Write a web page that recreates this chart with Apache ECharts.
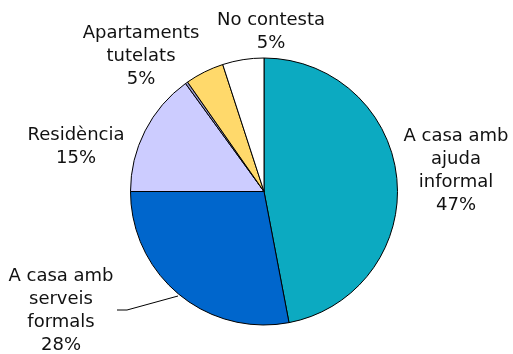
<!DOCTYPE html>
<html>
<head>
<meta charset="utf-8">
<script src="https://cdn.jsdelivr.net/npm/echarts@6/dist/echarts.min.js"></script>
<style>
  html, body { margin: 0; padding: 0; background: #fff; }
  #chart { width: 513px; height: 354px; }
</style>
</head>
<body>
<div id="chart"></div>
<script>
// Residential situation shares (percent), clockwise from 12 o'clock
const categories = [
  'A casa amb\najuda\ninformal',
  'A casa amb\nserveis\nformals',
  'Residència',
  'Altres',
  'Apartaments\ntutelats',
  'No contesta'
];
const shares = [47, 28, 15, 0.3, 4.7, 5];
const sliceColors = ['#0CAAC1', '#0066CC', '#CCCCFF', '#9A9AC8', '#FFD96B', '#FFFFFF'];
const hiddenLabels = ['Altres'];

// label anchor points (block centres) and the single leader line
const labelSpots = [[456, 171], [61, 311], [76, 147], null, [141, 56], [271, 32]];
const leader = [[178, 296], [127, 310], [117, 310]];

const chart = echarts.init(document.getElementById('chart'), null, { renderer: 'canvas' });

const data = categories.map((name, i) => ({
  name: name,
  value: shares[i],
  itemStyle: { color: sliceColors[i] },
  label: { show: hiddenLabels.indexOf(name) < 0 },
  labelLine: { show: i === 1 }
}));

chart.setOption({
  animation: false,
  series: [{
    type: 'pie',
    center: [264, 191.5],
    radius: 133.5,
    startAngle: 90,
    clockwise: true,
    avoidLabelOverlap: false,
    percentPrecision: 0,
    itemStyle: { borderColor: '#000', borderWidth: 1 },
    label: {
      position: 'outside',
      formatter: '{b}\n{d}%',
      fontFamily: 'Verdana, "DejaVu Sans", sans-serif',
      fontSize: 18,
      lineHeight: 23,
      color: '#111',
      align: 'center'
    },
    labelLine: {
      lineStyle: { color: '#000', width: 1 }
    },
    emphasis: { disabled: true },
    labelLayout: function (p) {
      const spot = labelSpots[p.dataIndex];
      if (!spot) return {};
      const out = { x: spot[0], y: spot[1], align: 'center', verticalAlign: 'middle' };
      if (p.dataIndex === 1) out.labelLinePoints = leader;
      return out;
    },
    data: data
  }]
});
</script>
</body>
</html>
